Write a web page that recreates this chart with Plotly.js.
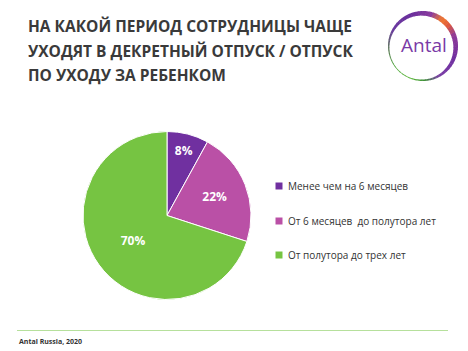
<!DOCTYPE html>
<html>
<head>
<meta charset="utf-8">
<script src="https://cdn.plot.ly/plotly-3.0.1.min.js"></script>
<style>html,body{margin:0;padding:0;background:#fff;}#chart{width:468px;height:351px;}</style>
</head>
<body>
<div id="chart"></div>
<script>
// ---- data ----
var categories = ["Менее чем на 6 месяцев", "От 6 месяцев  до полутора лет", "От полутора до трех лет"];
var values = [8, 22, 70];
var sliceColors = ["#7030A0", "#BA50A6", "#76C442"];
var titleLines = ["НА КАКОЙ ПЕРИОД СОТРУДНИЦЫ ЧАЩЕ", "УХОДЯТ В ДЕКРЕТНЫЙ ОТПУСК / ОТПУСК", "ПО УХОДУ ЗА РЕБЕНКОМ"];
var sourceText = "Antal Russia, 2020";
var logoText = "Antal";

var W = 468, H = 351;
function px(x){ return x / W; }
function py(y){ return 1 - y / H; }

var shapes = [];
var annotations = [];

// title, one annotation per line
var titleY = [26, 50.5, 75];
titleLines.forEach(function(t, i){
  annotations.push({
    xref: 'paper', yref: 'paper', x: px(26), y: py(titleY[i]), xanchor: 'left', yanchor: 'middle',
    text: t, align: 'left', showarrow: false,
    font: {family: 'Open Sans, sans-serif', size: 15.5, color: '#3a3a3a', weight: 'bold'}
  });
});

// legend (built from categories)
var legendY = [186, 221, 255];
categories.forEach(function(c, i){
  shapes.push({type: 'rect', xref: 'paper', yref: 'paper',
    x0: px(275.5), x1: px(282.5), y0: py(legendY[i] - 3.5), y1: py(legendY[i] + 3.5),
    fillcolor: sliceColors[i], line: {width: 0}});
  annotations.push({xref: 'paper', yref: 'paper', x: px(286), y: py(legendY[i]),
    xanchor: 'left', yanchor: 'middle', showarrow: false, text: c,
    font: {family: 'Open Sans, sans-serif', size: 10, color: '#333333'}});
});

// footer
shapes.push({type: 'line', xref: 'paper', yref: 'paper', x0: px(17), x1: px(448), y0: py(330.5), y1: py(330.5),
  line: {color: '#B6E09C', width: 1}});
annotations.push({xref: 'paper', yref: 'paper', x: px(17), y: py(341), xanchor: 'left', yanchor: 'middle',
  showarrow: false, text: sourceText,
  font: {family: 'Open Sans, sans-serif', size: 7, color: '#333333', weight: 'bold'}});

// logo ring (decoration)
var c1 = [423, 46], R1 = 35, c2 = [421.4, 47.6], R2 = 32;
var stops = [ // angle (deg, math), color
  [-60, '#7A3DA6'], [-20, '#7030A0'], [20, '#8E3A98'], [40, '#E05A3C'], [55, '#F07A30'], [75, '#8A3C9E'],
  [110, '#6A2E9C'], [150, '#6A3AA0'], [185, '#5E7A5A'], [215, '#4FA63C'], [250, '#5BB63A'], [275, '#3E8E3A'], [300, '#7A3DA6']
];
function hex2rgb(h){ return [parseInt(h.substr(1,2),16), parseInt(h.substr(3,2),16), parseInt(h.substr(5,2),16)]; }
function colorAt(a){
  for (var i = 0; i < stops.length - 1; i++){
    if (a >= stops[i][0] && a <= stops[i+1][0]){
      var t = (a - stops[i][0]) / (stops[i+1][0] - stops[i][0]);
      var A = hex2rgb(stops[i][1]), B = hex2rgb(stops[i+1][1]);
      return 'rgb(' + [0,1,2].map(function(k){ return Math.round(A[k] + (B[k]-A[k])*t); }).join(',') + ')';
    }
  }
  return stops[0][1];
}
var segN = 60, a0 = -60, a1 = 300;
for (var s = 0; s < segN; s++){
  var sa = a0 + (a1 - a0) * s / segN, ea = a0 + (a1 - a0) * (s + 1.15) / segN;
  var pts = [], k, a, n = 4;
  for (k = 0; k <= n; k++){ a = (sa + (ea - sa) * k / n) * Math.PI / 180;
    pts.push([c1[0] + R1 * Math.cos(a), c1[1] - R1 * Math.sin(a)]); }
  for (k = n; k >= 0; k--){ a = (sa + (ea - sa) * k / n) * Math.PI / 180;
    pts.push([c2[0] + R2 * Math.cos(a), c2[1] - R2 * Math.sin(a)]); }
  var path = pts.map(function(p, j){ return (j ? 'L' : 'M') + px(p[0]).toFixed(5) + ',' + py(p[1]).toFixed(5); }).join(' ') + ' Z';
  shapes.push({type: 'path', xref: 'paper', yref: 'paper', path: path,
    fillcolor: colorAt((sa + ea) / 2), line: {width: 0}});
}
annotations.push({xref: 'paper', yref: 'paper', x: px(424), y: py(45), xanchor: 'center', yanchor: 'middle',
  showarrow: false, text: logoText,
  font: {family: 'Open Sans, sans-serif', size: 19, color: '#7A3AA6'}});

// pie
var cx = 167, cy = 215.5, r = 84;
var trace = {
  type: 'pie', labels: categories, values: values, sort: false, direction: 'clockwise', rotation: 0,
  marker: {colors: sliceColors, line: {color: '#ffffff', width: 1}},
  textinfo: 'percent', texttemplate: '%{value}%', textposition: 'inside', insidetextorientation: 'horizontal',
  textfont: {family: 'Open Sans, sans-serif', size: 12, color: '#ffffff', weight: 'bold'},
  domain: {x: [px(cx - r), px(cx + r)], y: [py(cy + r), py(cy - r)]},
  showlegend: false, hoverinfo: 'label+percent'
};

var layout = {
  width: W, height: H, margin: {l: 0, r: 0, t: 0, b: 0},
  paper_bgcolor: '#ffffff', plot_bgcolor: '#ffffff',
  showlegend: false, shapes: shapes, annotations: annotations
};
Plotly.newPlot('chart', [trace], layout, {displayModeBar: false, staticPlot: true});
</script>
</body>
</html>
